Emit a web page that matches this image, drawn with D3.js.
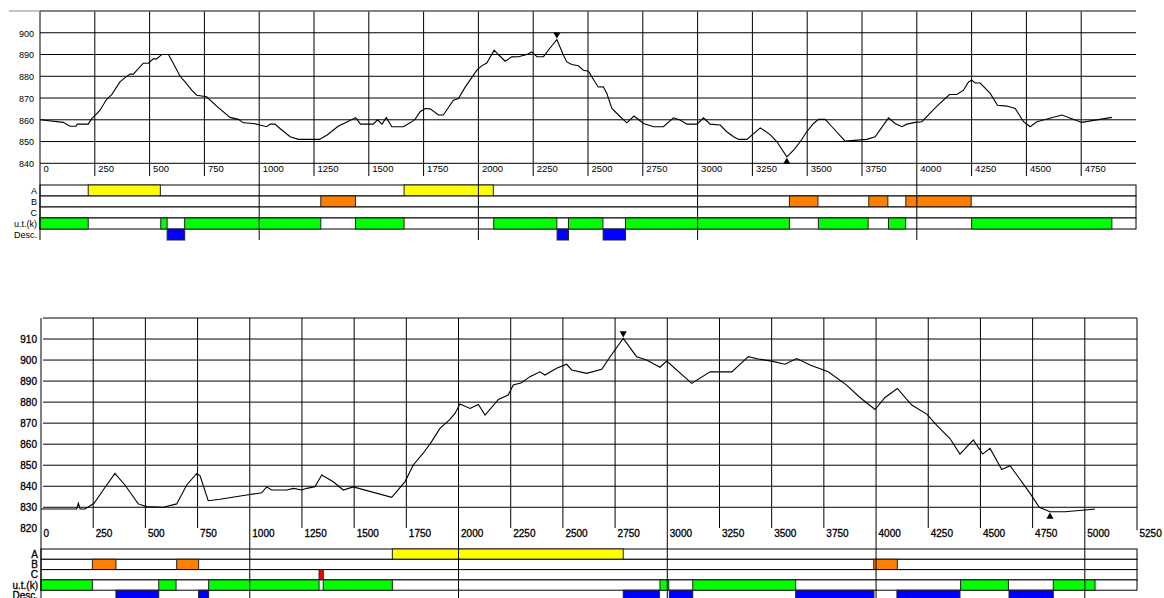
<!DOCTYPE html>
<html>
<head>
<meta charset="utf-8">
<script src="https://cdn.jsdelivr.net/npm/d3@7"></script>
<style>
  body { margin: 0; background: #fff; }
  svg { display: block; font-family: "Liberation Sans", Arial, sans-serif; }
</style>
</head>
<body>
<svg id="chart" width="1164" height="598"></svg>
<script>
// ---------- Route 1: elevation profile ----------
const route1Dist = [0,106,137,164,170,220,236,251,274,304,327,365,388,411,426,471,494,517,532,555,586,608,639,662,692,715,760,806,867,905,928,973,1004,1034,1050,1072,1095,1141,1179,1275,1310,1360,1400,1440,1462,1500,1520,1540,1560,1580,1605,1658,1688,1711,1734,1757,1780,1818,1840,1886,1909,1939,1993,2015,2038,2072,2091,2122,2152,2183,2221,2244,2267,2297,2327,2358,2388,2403,2426,2456,2479,2502,2532,2547,2570,2586,2609,2639,2677,2710,2753,2799,2844,2890,2920,2951,2997,3027,3057,3103,3133,3164,3187,3225,3286,3331,3362,3407,3438,3468,3498,3529,3552,3582,3613,3673,3772,3810,3871,3901,3932,3955,3993,4023,4092,4149,4183,4213,4236,4251,4266,4289,4335,4368,4411,4449,4487,4517,4548,4662,4753,4890];
const route1Elev = [860,858.8,857,857,858,858,860.5,862,864.4,869.4,871.6,877.4,879.4,881,881,886,886,888,888,890,890,886,880,877.4,873.6,871.3,870.6,866.3,861.1,860.2,858.6,858.3,857.6,856.8,858,858,856,852.2,851,851,853,857,859,861,858,858,858,860,858,861,856.8,856.8,858.6,860.2,863.7,865.2,865,862.2,862.2,869,869.8,874.9,882.8,884.8,886.1,892,890,886.9,888.9,889,890,891.2,889,889,893,896.9,889.7,886.6,885.4,884.8,882.8,882.3,877.4,875.1,875.2,872.1,865.2,862.2,858.6,861.7,858.3,856.8,856.8,860.9,859.9,858,858,860.9,858,857.6,854.5,852.2,851,851,856.3,853.2,849.9,843,846.1,849.9,854.5,858.3,860.2,860.2,856.8,850.2,851,852.2,860.9,858.3,856.8,858,858.8,859.1,866.3,871.6,871.6,873.6,877.4,878.2,876.9,876.9,872.1,866.7,866.3,865.2,859.1,856.8,859.1,862.2,858.8,861.1];

// Route 1 attribute strips, [from, to] in metres
const route1A    = [[220,549],[1661,2068]];
const route1B    = [[1281,1439],[3419,3549],[3781,3868],[3950,4248]];
const route1C    = [];
const route1Ut   = [[0,220],[551,580],[660,1281],[1439,1661],[2070,2358],[2411,2568],[2671,3419],[3551,3778],[3871,3949],[4250,4890]];
const route1Desc = [[580,660],[2359,2411],[2569,2671]];

const route1XTicks = [0,250,500,750,1000,1250,1500,1750,2000,2250,2500,2750,3000,3250,3500,3750,4000,4250,4500,4750];
const route1YTicks = [840,850,860,870,880,890,900];

// ---------- Route 2: elevation profile ----------
const route2Dist = [0,171,179,187,211,254,298,354,402,466,506,586,650,698,746,762,801,857,985,1057,1081,1105,1177,1209,1249,1273,1312,1345,1400,1448,1496,1680,1744,1783,1831,1871,1911,1959,1983,2007,2055,2095,2127,2191,2238,2262,2302,2342,2390,2414,2470,2518,2542,2614,2686,2726,2789,2853,2901,2965,2997,3117,3205,3309,3388,3436,3500,3564,3620,3684,3771,3859,3923,3995,4043,4102,4171,4243,4290,4354,4402,4466,4511,4546,4602,4642,4738,4782,4833,4905,5001,5049];
const route2Elev = [829.2,829.2,831.9,829.2,829.2,831.9,838.2,846.1,840.6,831.6,830.3,830,831.6,840.6,846.1,845,833.1,833.8,835.8,836.9,839.7,838.2,838.2,839,838.2,839,839.7,845.3,842.1,838.2,839.7,834.7,842.2,850.1,855.7,861.2,867.5,871.8,874.6,879.1,877,878.9,873.8,881.3,883.4,888.1,889.2,892.1,894.4,892.9,896.1,898,895.3,893.7,895.6,901.6,910.3,901.6,900,896.6,899.5,888.9,894.4,894.4,901.6,900.5,899.5,898,900.7,897.6,894.4,888.1,882.2,876.5,882.2,886.5,878.6,874.3,869.1,862.7,855.3,862,855.3,858,848,849.8,836.6,830,827.9,827.9,828.7,829.2];

// Route 2 attribute strips, [from, to] in metres
const route2A    = [[1683,2789]];
const route2B    = [[246,359],[650,755],[3989,4102]];
const route2C    = [[1332,1352]];
const route2Ut   = [[0,246],[564,647],[803,1332],[1352,1683],[2965,3007],[3122,3615],[4405,4634],[4849,5049]];
const route2Desc = [[359,564],[755,803],[2789,2962],[3010,3122],[3615,3990],[4100,4402],[4637,4849]];

const route2XTicks = [0,250,500,750,1000,1250,1500,1750,2000,2250,2500,2750,3000,3250,3500,3750,4000,4250,4500,4750,5000,5250];
const route2YTicks = [820,830,840,850,860,870,880,890,900,910];

const stripNames = ["A","B","C","u.t.(k)","Desc."];
const stripColors = { "A": "#ffff00", "B": "#ff8000", "C": "#ff0000", "u.t.(k)": "#00ff00", "Desc.": "#0000ff" };

const svg = d3.select("#chart");

function drawProfile(p) {
  const g = svg.append("g");
  const x = d3.scaleLinear().domain(p.xDomain).range(p.xRange);
  const y = d3.scaleLinear().domain(p.yDomain).range(p.yRange);
  const rows = d3.scaleBand().domain(stripNames).range(p.stripRange);
  const xL = p.xRange[0], xR = p.xRange[1];
  const yTop = p.yRange[1], yBot = p.yRange[0];
  const stripBottom = p.stripRange[1];

  // strips: white bordered rows, then coloured spans
  stripNames.forEach(name => {
    if (name !== "Desc.") {
      g.append("rect")
        .attr("x", xL).attr("y", rows(name))
        .attr("width", xR - xL).attr("height", rows.bandwidth())
        .attr("fill", "#fff").attr("stroke", "#000").attr("stroke-width", 1);
    }
    g.selectAll(null).data(p.strips[name]).join("rect")
      .attr("x", d => x(d[0])).attr("y", rows(name))
      .attr("width", d => x(d[1]) - x(d[0])).attr("height", rows.bandwidth())
      .attr("fill", stripColors[name]).attr("stroke", "#222").attr("stroke-width", 1);
  });

  g.selectAll(null).data(stripNames).join("text")
    .attr("x", p.stripLabelX).attr("y", d => rows(d) + rows.bandwidth() / 2)
    .attr("dy", "0.36em").attr("text-anchor", "end")
    .attr("font-size", p.stripFont)
    .attr("stroke", p.textStroke ? "#000" : null).attr("stroke-width", p.textStroke || null)
    .text(d => d);

  // horizontal grid
  g.selectAll(null).data(p.yGrid).join("line")
    .attr("x1", p.gridX0).attr("x2", xR)
    .attr("y1", d => y(d)).attr("y2", d => y(d))
    .attr("stroke", "#000").attr("stroke-width", 1);

  // vertical grid; every 1000 m reaches through the strips
  g.selectAll(null).data(p.xGrid).join("line")
    .attr("x1", d => x(d)).attr("x2", d => x(d))
    .attr("y1", yTop)
    .attr("y2", d => d % 1000 === 0 ? stripBottom : p.vGridEnd)
    .attr("stroke", "#000").attr("stroke-width", 1);

  // left axis
  g.append("line").attr("x1", xL).attr("x2", xL)
    .attr("y1", yTop).attr("y2", stripBottom)
    .attr("stroke", "#000").attr("stroke-width", 1);

  // y labels
  const ya = g.append("g").attr("transform", `translate(${p.yLabelX},0)`)
    .call(d3.axisLeft(y).tickValues(p.yTicks).tickSize(0).tickPadding(0));
  ya.select(".domain").remove();
  ya.attr("font-family", null).attr("font-size", p.yTickFont);
  if (p.labelBg) {
    ya.selectAll(".tick").insert("rect", "text")
      .attr("x", -p.yLabelX + 18).attr("y", -5).attr("width", p.yLabelX - 16).attr("height", 10)
      .attr("fill", "#fff");
  }
  ya.selectAll("text").attr("fill", "#000").attr("dy", "0.36em")
    .attr("stroke", p.textStroke ? "#000" : null).attr("stroke-width", p.textStroke || null);

  // x labels
  const xa = g.append("g").attr("transform", `translate(0,${yBot})`)
    .call(d3.axisBottom(x).tickValues(p.xTicks).tickSize(0).tickPadding(2).tickFormat(d3.format("d")));
  xa.select(".domain").remove();
  xa.attr("font-family", null).attr("font-size", p.xTickFont);
  xa.selectAll("text").attr("fill", "#000").attr("text-anchor", "start").attr("x", p.xLabelDx)
    .attr("stroke", p.textStroke ? "#000" : null).attr("stroke-width", p.textStroke || null);

  // elevation line
  const pts = p.dist.map((d, i) => [d, p.elev[i]]);
  g.append("path").datum(pts)
    .attr("fill", "none").attr("stroke", "#000").attr("stroke-width", 1.1)
    .attr("d", d3.line().x(d => x(d[0])).y(d => y(d[1])));

  // highest / lowest point markers
  const hi = pts[d3.maxIndex(pts, d => d[1])];
  const lo = pts[d3.minIndex(pts, d => d[1])];
  const tri = d3.symbol().type(d3.symbolTriangle).size(22);
  g.append("path").attr("d", tri())
    .attr("transform", `translate(${x(hi[0])},${y(hi[1]) - 5}) rotate(180)`).attr("fill", "#000");
  g.append("path").attr("d", tri())
    .attr("transform", `translate(${x(lo[0])},${y(lo[1]) + 5})`).attr("fill", "#000");
  return { x, y };
}

// Route 1 (upper panel)
const p1 = drawProfile({
  dist: route1Dist, elev: route1Elev,
  xDomain: [0, 5000], xRange: [40, 1136],
  yDomain: [840, 910], yRange: [163.3, 11],
  yTicks: route1YTicks, yGrid: route1YTicks.concat([910]),
  xTicks: route1XTicks, xGrid: route1XTicks.filter(d => d > 0),
  gridX0: 40, vGridEnd: 176,
  stripRange: [185, 240],
  strips: { "A": route1A, "B": route1B, "C": route1C, "u.t.(k)": route1Ut, "Desc.": route1Desc },
  stripLabelX: 37, stripFont: 9, xTickFont: 9.5, yTickFont: 9, textStroke: 0,
  yLabelX: 34, xLabelDx: 3, labelBg: false
});
// grey frame line over the upper panel
svg.append("line").attr("x1", 9).attr("x2", 1136).attr("y1", p1.y(910)).attr("y2", p1.y(910))
  .attr("stroke", "#888").attr("stroke-width", 1);

// Route 2 (lower panel)
const p2 = drawProfile({
  dist: route2Dist, elev: route2Elev,
  xDomain: [0, 5250], xRange: [41, 1137],
  yDomain: [820, 920], yRange: [528.3, 318],
  yTicks: route2YTicks, yGrid: [830,840,850,860,870,880,890,900,910,920],
  xTicks: route2XTicks, xGrid: route2XTicks.filter(d => d > 0 && d < 5250),
  gridX0: 43, vGridEnd: 528,
  stripRange: [549, 600.5],
  strips: { "A": route2A, "B": route2B, "C": route2C, "u.t.(k)": route2Ut, "Desc.": route2Desc },
  stripLabelX: 38, stripFont: 10, xTickFont: 10, yTickFont: 10, textStroke: 0.3,
  yLabelX: 37, xLabelDx: 2, labelBg: true
});
// right frame of the lower panel
svg.append("line").attr("x1", p2.x(5250)).attr("x2", p2.x(5250))
  .attr("y1", p2.y(920)).attr("y2", p2.y(820) + 2)
  .attr("stroke", "#000").attr("stroke-width", 1);
</script>
</body>
</html>
